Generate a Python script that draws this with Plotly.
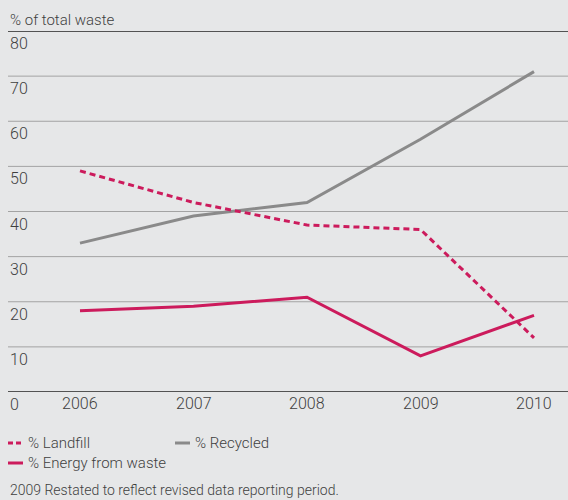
import plotly.graph_objects as go

# Waste disposal shares, % of total waste
years = [2006, 2007, 2008, 2009, 2010]
landfill = [49, 42, 37, 36, 12]
recycled = [33, 39, 42, 56, 71]
energy = [18, 19, 21, 8, 17]
y_ticks = [0, 10, 20, 30, 40, 50, 60, 70, 80]

BG = "#e6e7e8"
PINK = "#cc1b5c"
GREY = "#8a8a8a"
TEXT = "#3f3f3f"
FONT = "Roboto"
WEIGHT = 300

W, H = 568, 500
L, R, T, B = 8, 0, 31, 108
PW, PH = W - L - R, H - T - B


def px_x(x):
    return (x - L) / PW


def px_y(y):
    return (H - B - y) / PH


def font(size):
    return dict(family=FONT, size=size, color=TEXT, weight=WEIGHT)


fig = go.Figure()
fig.add_trace(go.Scatter(x=years, y=recycled, mode="lines", name="% Recycled",
                         line=dict(color=GREY, width=3)))
fig.add_trace(go.Scatter(x=years, y=landfill, mode="lines", name="% Landfill",
                         line=dict(color=PINK, width=3, dash="6px,4px")))
fig.add_trace(go.Scatter(x=years, y=energy, mode="lines", name="% Energy from waste",
                         line=dict(color=PINK, width=3)))

shapes = []
annotations = []

# horizontal rules: dark at the range ends, grey in between
for v in y_ticks:
    dark = v in (y_ticks[0], y_ticks[-1])
    shapes.append(dict(type="line", xref="paper", yref="y", x0=0, x1=1, y0=v, y1=v,
                       line=dict(color="#222222" if dark else "#a3a3a3", width=1.5 if dark else 1),
                       layer="below"))
    annotations.append(dict(xref="paper", yref="y", x=0, y=v, xanchor="left", yanchor="top",
                            yshift=-1, text=str(v), showarrow=False, font=font(16)))

# year labels under the baseline
for yr in years:
    annotations.append(dict(xref="x", yref="paper", x=yr, y=px_y(403), xanchor="center",
                            yanchor="middle", text=str(yr), showarrow=False, font=font(16)))

# axis title
annotations.append(dict(xref="paper", yref="paper", x=0, y=px_y(20), xanchor="left",
                        yanchor="middle", text="% of total waste", showarrow=False,
                        font=font(15)))

# legend
legend_items = [
    ("% Landfill", 8, 443, dict(color=PINK, width=3, dash="5px,3px")),
    ("% Recycled", 175, 443, dict(color=GREY, width=3)),
    ("% Energy from waste", 8, 463, dict(color=PINK, width=3)),
]
for label, lx, ly, ln in legend_items:
    shapes.append(dict(type="line", xref="paper", yref="paper",
                       x0=px_x(lx), x1=px_x(lx + 15), y0=px_y(ly), y1=px_y(ly), line=ln))
    annotations.append(dict(xref="paper", yref="paper", x=px_x(lx + 18), y=px_y(ly),
                            xanchor="left", yanchor="middle", text=label, showarrow=False,
                            font=font(15)))

# footnote
annotations.append(dict(xref="paper", yref="paper", x=0, y=px_y(490), xanchor="left",
                        yanchor="middle",
                        text="2009 Restated to reflect revised data reporting period.",
                        showarrow=False, font=font(14)))

x0 = 2006 - (80 - L) / 113.5
x1 = 2010 + (W - R - 534) / 113.5

fig.update_layout(
    width=W, height=H,
    margin=dict(l=L, r=R, t=T, b=B),
    paper_bgcolor=BG, plot_bgcolor=BG,
    showlegend=False,
    shapes=shapes, annotations=annotations,
    xaxis=dict(range=[x0, x1], showgrid=False, zeroline=False, showline=False,
               showticklabels=False, ticks=""),
    yaxis=dict(range=[0, 80], showgrid=False, zeroline=False, showline=False,
               showticklabels=False, ticks=""),
)

fig.write_html("out.html")
